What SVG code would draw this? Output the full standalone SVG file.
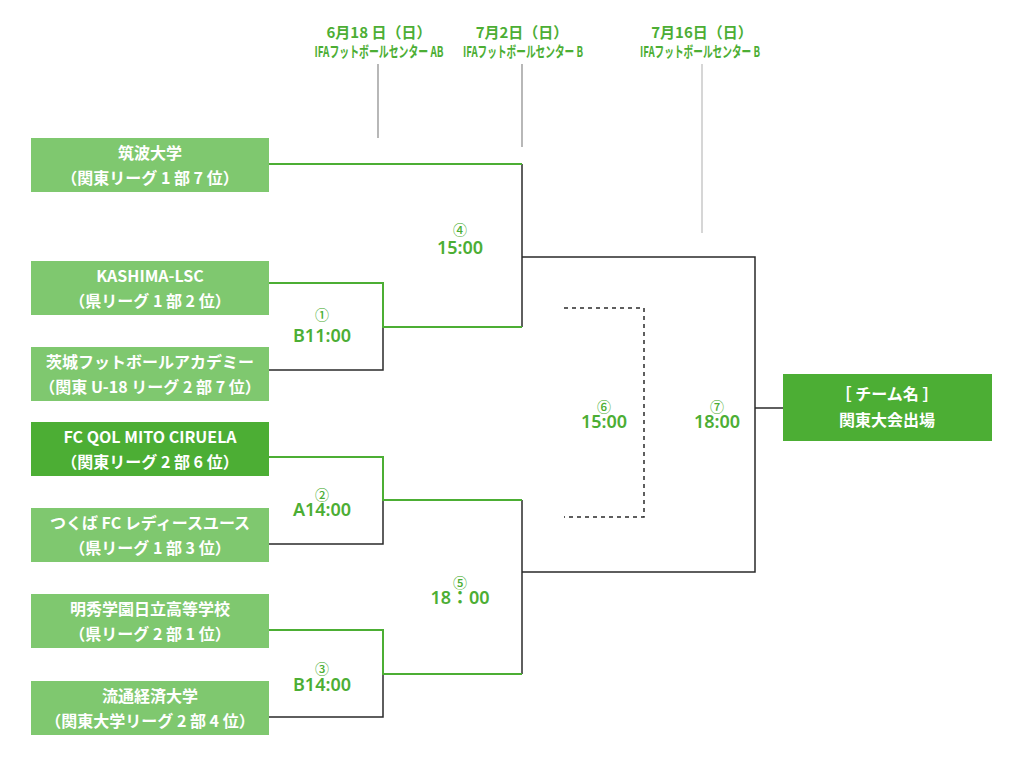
<svg xmlns="http://www.w3.org/2000/svg" width="1024" height="760" viewBox="0 0 1024 760">
<style>
.box{fill:#7fc86f}
.boxd{fill:#4cae34}
.bt{font-family:"Noto Sans CJK JP","Noto Sans",sans-serif;font-weight:bold;font-size:16px;fill:#fff;text-anchor:middle}
.hd{font-family:"Noto Sans CJK JP","Noto Sans",sans-serif;font-weight:bold;fill:#4cae34;text-anchor:middle}
.tm{font-family:"Noto Sans","Noto Sans CJK JP",sans-serif;font-weight:600;font-size:18px;fill:#4cae34;text-anchor:middle}
.cn{font-family:"Noto Sans CJK JP","Noto Sans",sans-serif;font-weight:500;font-size:14px}
.g{fill:none;stroke:#4cae34;stroke-width:2}
.k{fill:none;stroke:#2a2a2a;stroke-width:1.5}
.gr{fill:none;stroke:#888;stroke-width:1.2}
.dash{fill:none;stroke:#2a2a2a;stroke-width:1.5;stroke-dasharray:4 4}
</style>
<rect width="1024" height="760" fill="#fff"/>
<g id="headers">
<text class="hd" x="379" y="38" font-size="15">6月18 日（日）</text>
<text class="hd" x="379" y="57" font-size="15" textLength="129" lengthAdjust="spacingAndGlyphs">IFAフットボールセンター AB</text>
<text class="hd" x="522" y="38" font-size="15">7月2日（日）</text>
<text class="hd" x="523" y="57" font-size="15" textLength="120" lengthAdjust="spacingAndGlyphs">IFAフットボールセンター B</text>
<text class="hd" x="702" y="38" font-size="15">7月16日（日）</text>
<text class="hd" x="700" y="57" font-size="15" textLength="120" lengthAdjust="spacingAndGlyphs">IFAフットボールセンター B</text>
<line class="gr" x1="378" y1="64" x2="378" y2="138"/>
<line class="gr" x1="522" y1="64" x2="522" y2="147"/>
<line x1="702" y1="64" x2="702" y2="233" stroke="#bbb" stroke-width="1.2"/>
</g>
<g id="connectors">
<polyline class="k" points="522,164 522,327"/>
<polyline class="k" points="383,327 383,370 269,370"/>
<polyline class="k" points="383,500 383,544 269,544"/>
<polyline class="k" points="383,674 383,717 269,717"/>
<polyline class="k" points="522,500 522,674"/>
<polyline class="k" points="522,257 755,257 755,572 522,572"/>
<line class="k" x1="755" y1="408" x2="783" y2="408"/>
<polyline class="g" points="269,164 522,164"/>
<polyline class="g" points="269,283 383,283 383,327 522,327"/>
<polyline class="g" points="269,457 383,457 383,500 522,500"/>
<polyline class="g" points="269,630 383,630 383,674 522,674"/>
<polyline class="dash" points="564,308 644,308 644,517 564,517"/>
</g>
<g id="team1"><rect class="box" x="31" y="138" width="238" height="54"/><text class="bt" x="150" y="159">筑波大学</text><text class="bt" x="150" y="184">（関東リーグ 1 部 7 位）</text></g>
<g id="team2"><rect class="box" x="31" y="261" width="238" height="54"/><text class="bt" x="150" y="282">KASHIMA-LSC</text><text class="bt" x="150" y="307">（県リーグ 1 部 2 位）</text></g>
<g id="team3"><rect class="box" x="31" y="347" width="238" height="54"/><text class="bt" x="150" y="368">茨城フットボールアカデミー</text><text class="bt" x="150" y="393">（関東 U-18 リーグ 2 部 7 位）</text></g>
<g id="team4"><rect class="boxd" x="31" y="422" width="238" height="54"/><text class="bt" x="150" y="443">FC QOL MITO CIRUELA</text><text class="bt" x="150" y="468">（関東リーグ 2 部 6 位）</text></g>
<g id="team5"><rect class="box" x="31" y="508" width="238" height="54"/><text class="bt" x="150" y="529">つくば FC レディースユース</text><text class="bt" x="150" y="554">（県リーグ 1 部 3 位）</text></g>
<g id="team6"><rect class="box" x="31" y="594" width="238" height="54"/><text class="bt" x="150" y="615">明秀学園日立高等学校</text><text class="bt" x="150" y="640">（県リーグ 2 部 1 位）</text></g>
<g id="team7"><rect class="box" x="31" y="681" width="238" height="54"/><text class="bt" x="150" y="702">流通経済大学</text><text class="bt" x="150" y="727">（関東大学リーグ 2 部 4 位）</text></g>
<g id="winner"><rect class="boxd" x="783" y="374" width="209" height="67"/><text class="bt" x="887" y="400">［ チーム名 ］</text><text class="bt" x="887" y="426">関東大会出場</text></g>
<g id="match1"><text class="tm"><tspan class="cn" x="322" y="320">①</tspan><tspan x="322" y="342">B11:00</tspan></text></g>
<g id="match2"><text class="tm"><tspan class="cn" x="322" y="500">②</tspan><tspan x="322" y="516">A14:00</tspan></text></g>
<g id="match3"><text class="tm"><tspan class="cn" x="322" y="674">③</tspan><tspan x="322" y="691">B14:00</tspan></text></g>
<g id="match4"><text class="tm"><tspan class="cn" x="460" y="235">④</tspan><tspan x="460" y="254">15:00</tspan></text></g>
<g id="match5"><text class="tm"><tspan class="cn" x="460" y="588">⑤</tspan><tspan x="460" y="604">18：00</tspan></text></g>
<g id="match6"><text class="tm"><tspan class="cn" x="604" y="412">⑥</tspan><tspan x="604" y="428">15:00</tspan></text></g>
<g id="match7"><text class="tm"><tspan class="cn" x="717" y="412">⑦</tspan><tspan x="717" y="428">18:00</tspan></text></g>
</svg>
